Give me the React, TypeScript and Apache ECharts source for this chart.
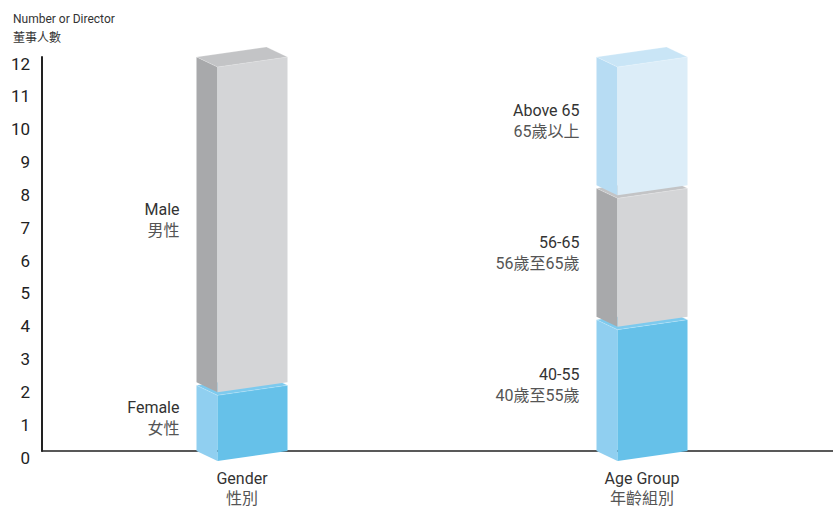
import React, { useEffect, useRef } from "react";
import * as echarts from "echarts";

const categories = ["Gender", "Age Group"];
const categoriesZh = ["性別", "年齡組別"];

const genderNames = ["Female", "Male"];
const genderNamesZh = ["女性", "男性"];
const genderValues = [2, 10];

const ageNames = ["40-55", "56-65", "Above 65"];
const ageNamesZh = ["40歲至55歲", "56歲至65歲", "65歲以上"];
const ageValues = [4, 4, 4];

const yTicks = [0, 1, 2, 3, 4, 5, 6, 7, 8, 9, 10, 11, 12];

const palettes: Record<string, { front: string; left: string; top: string }> = {
  blue: { front: "#66c1e9", left: "#90cff0", top: "#7dcaee" },
  gray: { front: "#d4d5d7", left: "#a8a9ab", top: "#c3c4c6" },
  light: { front: "#dcedf8", left: "#b7dcf3", top: "#c9e5f6" },
};
const genderColors = ["blue", "gray"];
const ageColors = ["blue", "gray", "light"];

type Seg = { cat: number; start: number; end: number; color: string; en: string; zh: string };

function buildSegments(): Seg[] {
  const out: Seg[] = [];
  let acc = 0;
  genderValues.forEach((v, i) => {
    out.push({ cat: 0, start: acc, end: acc + v, color: genderColors[i], en: genderNames[i], zh: genderNamesZh[i] });
    acc += v;
  });
  acc = 0;
  ageValues.forEach((v, i) => {
    out.push({ cat: 1, start: acc, end: acc + v, color: ageColors[i], en: ageNames[i], zh: ageNamesZh[i] });
    acc += v;
  });
  return out;
}

const FONT = 'Roboto, "Noto Sans CJK TC", "Noto Sans", sans-serif';

export default function App() {
  const ref = useRef<HTMLDivElement>(null);
  useEffect(() => {
    if (!ref.current) return;
    const chart = echarts.init(ref.current, null, { renderer: "svg" });
    const segments = buildSegments();
    const DX = 21;
    const DY = 10;
    const W = 70;
    const GAP = 3;

    const renderItem = (params: any, api: any) => {
      const s = segments[params.dataIndex];
      const base = api.coord([s.cat, s.start]);
      const top = api.coord([s.cat, s.end]);
      const cx = base[0];
      let ya = base[1];
      if (s.start > 0) ya -= GAP;
      const yb = top[1];
      const BL = cx - (W + DX) / 2;
      const FL = BL + DX;
      const FR = FL + W;
      const BR = BL + W;
      const p = palettes[s.color];
      const children: any[] = [
        {
          type: "polygon",
          shape: { points: [[BL, yb], [FL, yb + DY], [FL, ya + DY], [BL, ya]] },
          style: { fill: p.left },
        },
        {
          type: "polygon",
          shape: { points: [[FL, yb + DY], [FR, yb], [FR, ya], [FL, ya + DY]] },
          style: { fill: p.front },
        },
        {
          type: "polygon",
          shape: { points: [[BL, yb], [BR, yb - DY], [FR, yb], [FL, yb + DY]] },
          style: { fill: p.top, stroke: "rgba(255,255,255,0.35)", lineWidth: 0.6 },
        },
        {
          type: "text",
          style: {
            text: `{en|${s.en}}\n{zh|${s.zh}}`,
            x: BL - 17,
            y: (ya + yb) / 2,
            align: "right",
            verticalAlign: "middle",
            rich: {
              en: { fontSize: 16, lineHeight: 21, fill: "#333", fontFamily: FONT, align: "right" },
              zh: { fontSize: 16, lineHeight: 21, fill: "#555", fontFamily: FONT, align: "right" },
            },
          },
        },
      ];
      if (s.start === 0) {
        children.push({
          type: "text",
          style: {
            text: `{en|${categories[s.cat]}}\n{zh|${categoriesZh[s.cat]}}`,
            x: cx,
            y: base[1] + 17,
            align: "center",
            verticalAlign: "top",
            rich: {
              en: { fontSize: 16, lineHeight: 20, fill: "#333", fontFamily: FONT, align: "center" },
              zh: { fontSize: 16, lineHeight: 20, fill: "#555", fontFamily: FONT, align: "center" },
            },
          },
        });
      }
      return { type: "group", children };
    };

    chart.setOption({
      animation: false,
      title: {
        text: "Number or Director\n董事人數",
        left: 8,
        top: 4,
        textStyle: { fontSize: 12, fontWeight: "normal", lineHeight: 19, color: "#333", fontFamily: FONT },
      },
      grid: { left: 42, top: 57, right: 0, bottom: 57 },
      xAxis: {
        type: "value",
        min: -0.5,
        max: 1.4775,
        axisTick: { show: false },
        axisLabel: { show: false },
        axisLine: { show: true, onZero: false, lineStyle: { color: "#222", width: 1.5 } },
        splitLine: { show: false },
      },
      yAxis: {
        type: "value",
        min: yTicks[0],
        max: yTicks[yTicks.length - 1],
        interval: 1,
        axisTick: { show: false },
        splitLine: { show: false },
        axisLine: { show: true, onZero: false, lineStyle: { color: "#222", width: 2 } },
        axisLabel: {
          fontSize: 17,
          color: "#222",
          margin: 12,
          verticalAlign: "top",
          lineHeight: 13,
          fontFamily: FONT,
        },
      },
      series: [
        {
          type: "custom",
          renderItem,
          encode: { x: 0, y: [1, 2] },
          data: segments.map((s) => [s.cat, s.start, s.end]),
        },
      ],
    });
    return () => chart.dispose();
  }, []);
  return (
    <div
      ref={ref}
      style={{ position: "fixed", left: 0, top: 0, width: 833, height: 508, background: "#fff" }}
    />
  );
}
